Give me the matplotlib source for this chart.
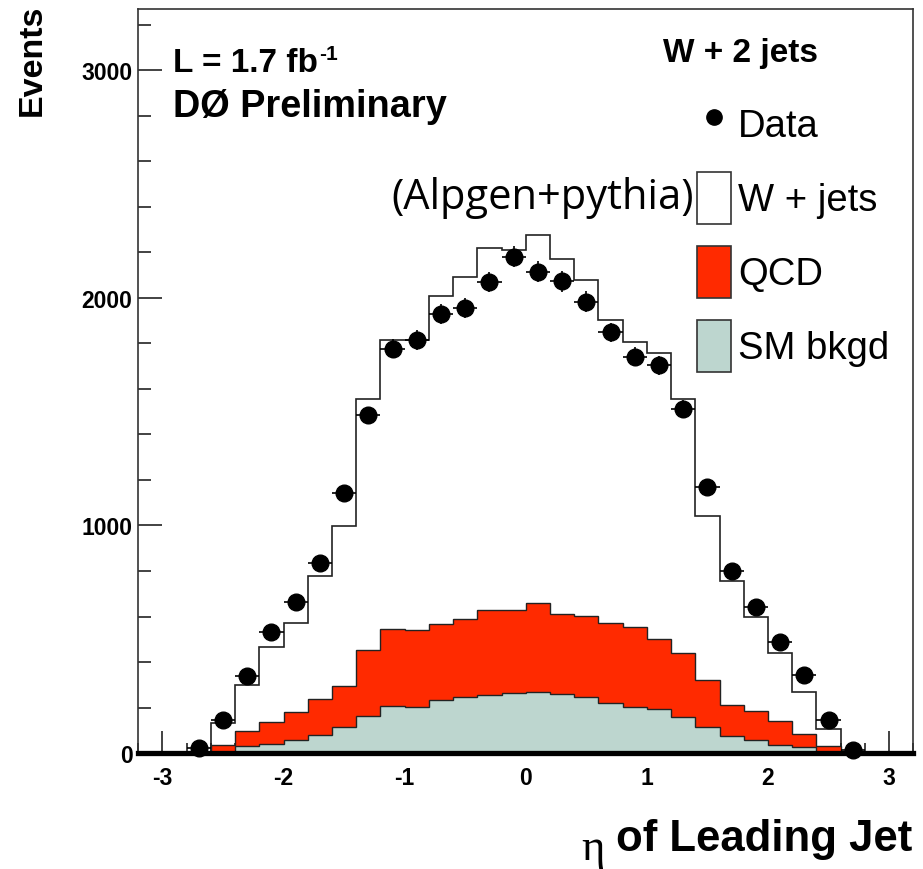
import numpy as np
import matplotlib
matplotlib.use('Agg')
import matplotlib.pyplot as plt
from matplotlib.patches import Patch
from matplotlib.lines import Line2D
from matplotlib.ticker import MultipleLocator

plt.rcParams['font.family'] = ['Liberation Sans', 'DejaVu Sans']
plt.rcParams['axes.unicode_minus'] = False

# eta bins of the MC stack (width 0.2 from -2.6 to 2.6)
bin_edges = np.round(np.linspace(-2.6, 2.6, 27), 1)

sm_bkgd = [4, 29, 40, 57, 79, 113, 161, 208, 203, 234, 245, 256, 265,
           269, 259, 245, 218, 201, 193, 157, 113, 73, 57, 37, 28, 5]
qcd = [33, 66, 95, 122, 158, 180, 291, 336, 337, 333, 344, 371, 362,
       390, 354, 358, 353, 355, 308, 282, 209, 139, 126, 102, 55, 27]
wjets = [93, 205, 329, 392, 539, 705, 1103, 1271, 1275, 1441, 1504, 1593, 1583,
         1617, 1559, 1474, 1331, 1252, 1259, 1116, 720, 545, 413, 300, 186, 73]

data_eta = np.round(np.linspace(-2.7, 2.7, 28), 1)
data_events = [20, 144, 337, 533, 662, 837, 1142, 1484, 1777, 1815, 1931, 1954, 2070, 2181,
               2115, 2073, 1984, 1849, 1742, 1704, 1511, 1171, 801, 640, 489, 344, 146, 14]

red = '#FF2A00'
grey = '#BDD6CF'

fig = plt.figure(figsize=(9.23, 8.7), dpi=100)
ax = fig.add_axes([0.1497, 0.1333, 0.8398, 0.8552])

sm = np.array(sm_bkgd)
sm_qcd = sm + np.array(qcd)
total = sm_qcd + np.array(wjets)

ax.stairs(total, bin_edges, baseline=0, fill=True, facecolor='white', zorder=1)
ax.stairs(total, bin_edges, baseline=0, fill=False, color='#222222', lw=1.2, zorder=2)
ax.stairs(sm_qcd, bin_edges, baseline=0, fill=True, facecolor=red, zorder=3)
ax.stairs(sm_qcd, bin_edges, baseline=0, fill=False, color='#222222', lw=1.0, zorder=4)
ax.stairs(sm, bin_edges, baseline=0, fill=True, facecolor=grey, zorder=5)
ax.stairs(sm, bin_edges, baseline=0, fill=False, color='#222222', lw=1.0, zorder=6)

ax.errorbar(data_eta, data_events, xerr=0.1, yerr=np.sqrt(data_events), fmt='o',
            color='black', ms=12, elinewidth=1.2, capsize=0, zorder=8, clip_on=False)

ax.set_xlim(-3.2, 3.2)
ax.set_ylim(0, 3270)
ax.xaxis.set_major_locator(MultipleLocator(1))
ax.xaxis.set_minor_locator(MultipleLocator(0.2))
ax.yaxis.set_major_locator(MultipleLocator(1000))
ax.yaxis.set_minor_locator(MultipleLocator(200))
ax.tick_params(which='both', direction='in', width=1.2, colors='#222222')
ax.tick_params(axis='x', which='major', length=16, pad=9)
ax.tick_params(axis='x', which='minor', length=7)
ax.tick_params(axis='y', which='major', length=17, pad=4)
ax.tick_params(axis='y', which='minor', length=9)
for lab in ax.get_xticklabels() + ax.get_yticklabels():
    lab.set_fontsize(16.5)
    lab.set_fontweight('bold')
    lab.set_color('black')
for s in ['left', 'top', 'right']:
    ax.spines[s].set_linewidth(1.2)
    ax.spines[s].set_color('#333333')
ax.spines['bottom'].set_linewidth(3.8)
ax.spines['bottom'].set_zorder(9)

lumi = ax.text(0.0448, 0.9167, 'L = 1.7 fb', transform=ax.transAxes, fontsize=24,
               fontweight='bold', va='baseline')
ax.annotate('-1', xy=(1, 1), xycoords=lumi, xytext=(1, 2), textcoords='offset points',
            fontsize=15, fontweight='bold', va='top', ha='left')
ax.text(0.0448, 0.856, 'DØ Preliminary', transform=ax.transAxes, fontsize=27.3,
        fontweight='bold', va='baseline')
ax.text(0.677, 0.930, 'W + 2 jets', transform=ax.transAxes, fontsize=24,
        fontweight='bold', va='baseline')
ax.text(0.717, 0.7325, '(Alpgen+pythia)', transform=ax.transAxes, fontsize=30,
        family='Open Sans', va='baseline', ha='right')

handles = [Line2D([], [], marker='o', ls='none', color='black', ms=11),
           Patch(facecolor='white', edgecolor='#333333', lw=1.2),
           Patch(facecolor=red, edgecolor='#333333', lw=1.2),
           Patch(facecolor=grey, edgecolor='#333333', lw=1.2)]
ax.legend(handles, ['Data', 'W + jets', 'QCD', 'SM bkgd'], loc='upper left',
          bbox_to_anchor=(0.721, 0.8797), borderpad=0, borderaxespad=0,
          handlelength=0.89, handleheight=1.68, handletextpad=0.19,
          labelspacing=0.6, frameon=False, fontsize=27.5)

fig.text(0.035, 0.995, 'Events', rotation=90, fontsize=24.5, fontweight='bold',
         ha='center', va='top')
xl = fig.text(0.988, 0.0215, 'of Leading Jet', fontsize=31.5, fontweight='bold',
              ha='right', va='baseline')
ax.annotate('η', xy=(0, 0), xycoords=xl, xytext=(-8, 0), textcoords='offset points',
            fontsize=32, family='Liberation Serif', ha='right', va='baseline',
            annotation_clip=False)

fig.savefig('out.png', dpi=100)
